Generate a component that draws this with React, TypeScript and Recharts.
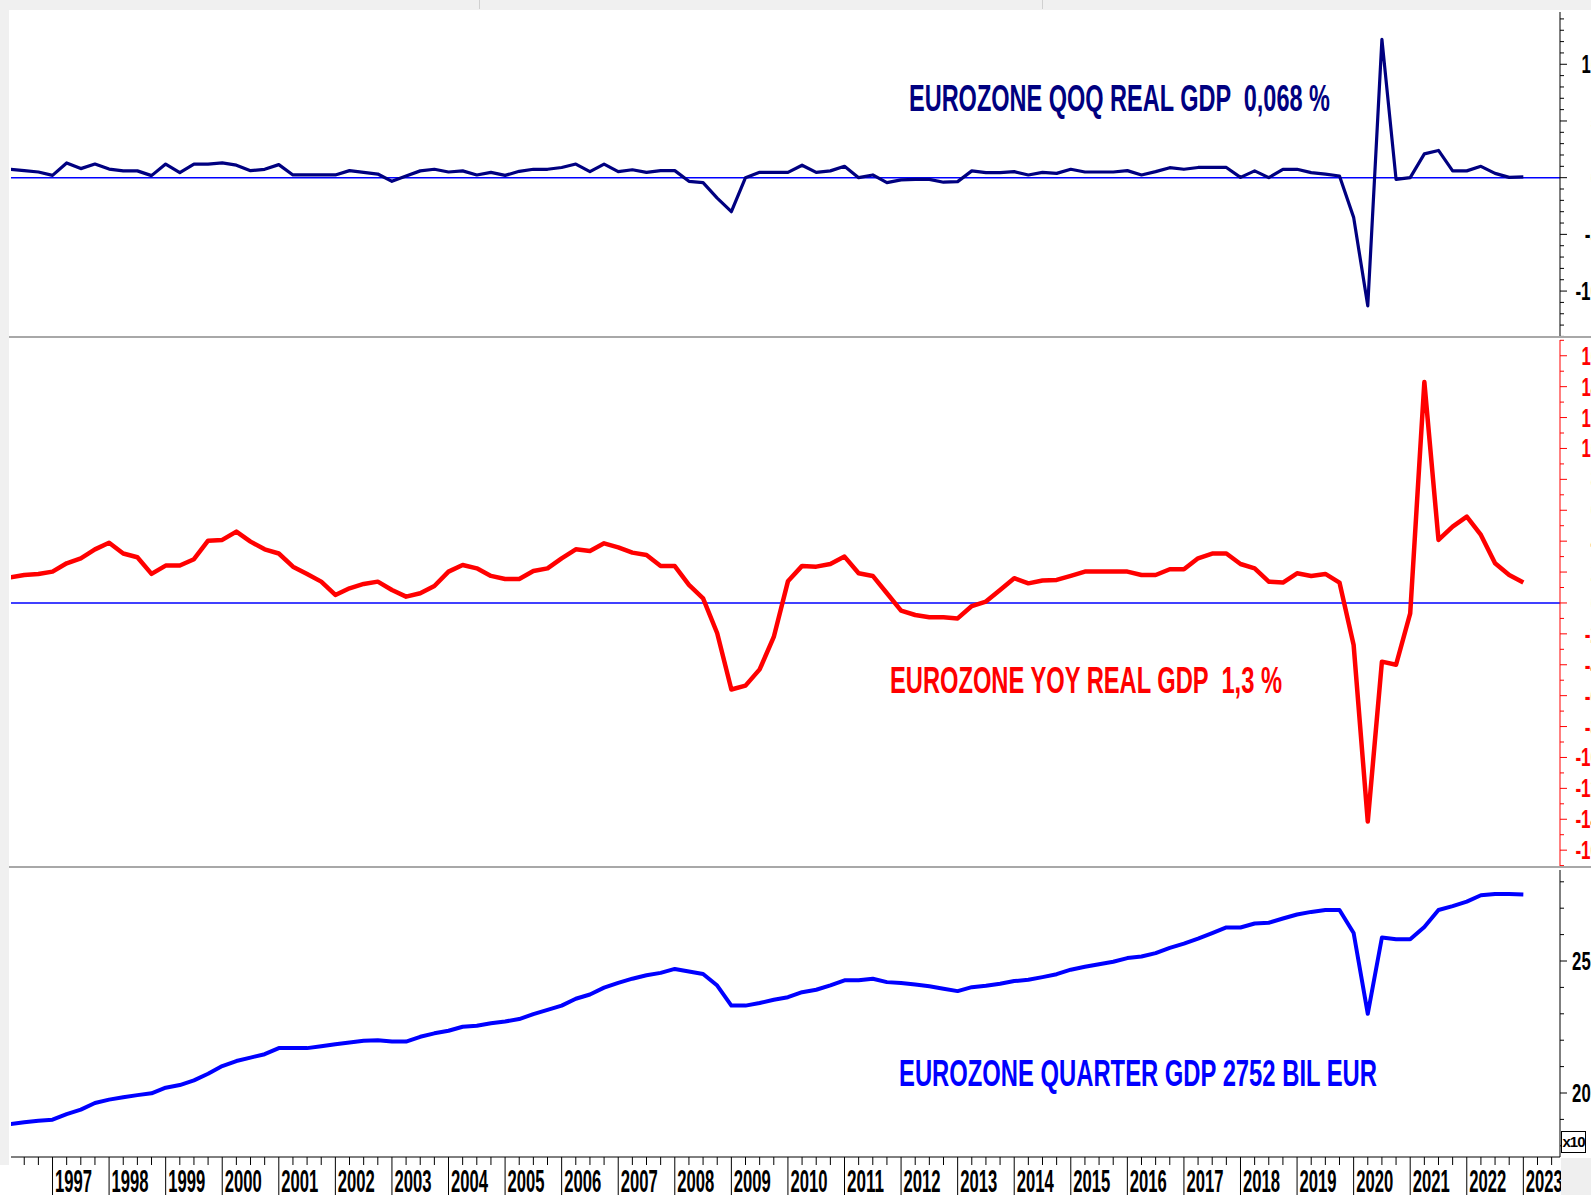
import React from "react";
import { LineChart, Line, XAxis, YAxis, ReferenceLine } from "recharts";

// quarters run from 1996 Q2 to 2023 Q1
const years = [1996, 1997, 1998, 1999, 2000, 2001, 2002, 2003, 2004, 2005, 2006, 2007, 2008, 2009,
  2010, 2011, 2012, 2013, 2014, 2015, 2016, 2017, 2018, 2019, 2020, 2021, 2022, 2023];
const quarterOffsets = [0, 0.25, 0.5, 0.75];
const firstQuarter = 1996.25;

// QoQ real GDP, %
const qoq = [
  0.74, 0.62, 0.5, 0.2, 1.3, 0.8, 1.2, 0.76, 0.6, 0.6, 0.18, 1.2, 0.45, 1.2, 1.2, 1.3,
  1.1, 0.62, 0.74, 1.15, 0.24, 0.24, 0.24, 0.24, 0.62, 0.47, 0.32, -0.32, 0.15, 0.6, 0.74, 0.5,
  0.6, 0.24, 0.47, 0.2, 0.56, 0.74, 0.74, 0.9, 1.2, 0.53, 1.2, 0.53, 0.7, 0.47, 0.62, 0.62,
  -0.32, -0.44, -1.8, -3.0, 0.0, 0.47, 0.47, 0.47, 1.1, 0.47, 0.6, 1.0, 0.0, 0.24, -0.44, -0.2,
  -0.15, -0.15, -0.4, -0.35, 0.6, 0.45, 0.45, 0.53, 0.24, 0.47, 0.38, 0.74, 0.5, 0.5, 0.5, 0.62,
  0.24, 0.53, 0.88, 0.74, 0.9, 0.9, 0.9, 0.03, 0.6, 0.0, 0.74, 0.74, 0.45, 0.32, 0.15, -3.5,
  -11.3, 12.2, -0.15, 0.0, 2.1, 2.4, 0.6, 0.6, 1.0, 0.38, 0.03, 0.068,
];

// YoY real GDP, %
const yoy = [
  1.66, 1.81, 1.88, 2.03, 2.57, 2.89, 3.47, 3.9, 3.2, 2.96, 1.88, 2.42, 2.42, 2.83, 4.03, 4.08,
  4.62, 3.97, 3.47, 3.2, 2.35, 1.88, 1.38, 0.52, 0.95, 1.23, 1.38, 0.84, 0.41, 0.63, 1.1, 2.03,
  2.46, 2.24, 1.75, 1.55, 1.55, 2.07, 2.24, 2.89, 3.47, 3.37, 3.86, 3.6, 3.26, 3.1, 2.39, 2.39,
  1.17, 0.3, -1.96, -5.6, -5.35, -4.3, -2.2, 1.4, 2.4, 2.35, 2.52, 3.0, 1.92, 1.75, 0.63, -0.5,
  -0.78, -0.93, -0.93, -1.0, -0.2, 0.09, 0.84, 1.6, 1.27, 1.45, 1.49, 1.75, 2.03, 2.03, 2.03, 2.03,
  1.81, 1.81, 2.18, 2.18, 2.89, 3.2, 3.2, 2.52, 2.24, 1.38, 1.32, 1.92, 1.75, 1.88, 1.32, -2.72,
  -14.15, -3.8, -4.0, -0.67, 14.3, 4.08, 4.94, 5.59, 4.4, 2.57, 1.81, 1.32,
];

// quarterly GDP, BIL EUR
const gdp = [
  1882, 1889, 1895, 1899, 1920, 1937, 1962, 1975, 1984, 1992, 1999, 2020, 2030, 2048, 2073, 2102,
  2121, 2134, 2147, 2170, 2170, 2170, 2177, 2185, 2191, 2198, 2200, 2195, 2195, 2213, 2226, 2236,
  2251, 2255, 2264, 2271, 2280, 2299, 2315, 2331, 2357, 2373, 2399, 2417, 2433, 2446, 2455, 2470,
  2460, 2451, 2407, 2331, 2331, 2341, 2353, 2363, 2382, 2391, 2408, 2427, 2427, 2433, 2420, 2417,
  2411, 2404, 2395, 2386, 2401, 2406, 2414, 2424, 2429, 2439, 2450, 2467, 2478, 2488, 2497, 2511,
  2517, 2530, 2550, 2566, 2585, 2606, 2627, 2627, 2642, 2645, 2661, 2676, 2686, 2693, 2693, 2606,
  2300, 2589, 2582, 2582, 2629, 2693, 2708, 2725, 2749, 2754, 2754, 2752,
];

const qoqTicks = [-14, -13, -12, -11, -10, -9, -8, -7, -6, -5, -4, -3, -2, -1, 0,
  1, 2, 3, 4, 5, 6, 7, 8, 9, 10, 11, 12, 13, 14];
const yoyTicks = [-17, -16, -15, -14, -13, -12, -11, -10, -9, -8, -7, -6, -5, -4, -3, -2, -1, 0,
  1, 2, 3, 4, 5, 6, 7, 8, 9, 10, 11, 12, 13, 14, 15, 16, 17];
const gdpTicks = [1800, 1900, 2000, 2100, 2200, 2300, 2400, 2500, 2600, 2700, 2800];

const X_DOMAIN = [1996.266, 2023.648];

const rows = qoq.map((v, i) => ({
  t: firstQuarter + i * 0.25,
  qoq: v,
  yoy: yoy[i],
  gdp: gdp[i],
}));

const xTicks: number[] = [];
years.forEach((y) => quarterOffsets.forEach((q) => {
  const t = y + q;
  if (t > X_DOMAIN[0] && t < X_DOMAIN[1]) xTicks.push(t);
}));

const FONT = "'Liberation Sans Narrow', 'Liberation Sans', Arial, sans-serif";

const textWidth = (s: string) => {
  let w = 0;
  for (const ch of s) w += ch === "-" ? 6 : 9.3;
  return w;
};

// tall, narrow bold text like the original terminal font
const Tall = ({ x, y, children, size, stretch = 1.4, width, anchor = "start", fill }: any) => (
  <g transform={`translate(${x},${y}) scale(1,${stretch})`}>
    <text x={0} y={0} textAnchor={anchor} textLength={width} lengthAdjust="spacingAndGlyphs"
          fontSize={size} fontWeight={700} fontFamily={FONT} fill={fill} style={{ whiteSpace: "pre" }}>
      {children}
    </text>
  </g>
);

const rightTick = (color: string, labelStep: number, fmt: (v: number) => string) => (props: any) => {
  const { x, y, payload } = props;
  const v = payload.value;
  const major = Math.abs(v % labelStep) < 1e-6;
  const label = fmt(v);
  return (
    <g>
      <line x1={x} x2={x + (major ? 7 : 4)} y1={y} y2={y} stroke={color} strokeWidth={1} />
      {major && (
        <Tall x={x + 40} y={y + 9} size={18} width={textWidth(label)} anchor="end" fill={color}>
          {label}
        </Tall>
      )}
    </g>
  );
};

const XTick = (props: any) => {
  const { x, y, payload } = props;
  const v = payload.value;
  const isYear = Math.abs(v - Math.round(v)) < 1e-6;
  if (!isYear) return <line x1={x} x2={x} y1={y} y2={y + 8} stroke="#000" strokeWidth={1} />;
  return (
    <g>
      <line x1={x} x2={x} y1={y} y2={y + 40} stroke="#000" strokeWidth={1} />
      <Tall x={x + 2.5} y={y + 35} size={22} width={37} fill="#000">{Math.round(v)}</Tall>
    </g>
  );
};

const abs = (o: any) => ({ position: "absolute" as const, ...o });

export default function App() {
  return (
    <div style={abs({ left: 0, top: 0, width: 1591, height: 1195, overflow: "hidden", background: "#fff" })}>

      {/* QoQ panel */}
      <div style={abs({ left: 0, top: 0 })}>
        <LineChart width={1591} height={338} data={rows} margin={{ top: 12, right: 0, bottom: 1, left: 11 }}>
          <XAxis dataKey="t" type="number" domain={X_DOMAIN} hide allowDataOverflow />
          <YAxis orientation="right" width={31} domain={[-14.05, 14.61]} ticks={qoqTicks} interval={0}
                 allowDataOverflow tickSize={0} tickMargin={0} tickLine={false}
                 axisLine={{ stroke: "#000", strokeWidth: 1 }}
                 tick={rightTick("#000", 5, (v) => String(v))} />
          <ReferenceLine y={0} stroke="#0000ff" strokeWidth={1.5} />
          <Line dataKey="qoq" type="linear" stroke="#000080" strokeWidth={3.2} dot={false}
                strokeLinejoin="round" isAnimationActive={false} />
        </LineChart>
      </div>

      {/* YoY panel */}
      <div style={abs({ left: 0, top: 338 })}>
        <LineChart width={1591} height={530} data={rows} margin={{ top: 2, right: 0, bottom: 1, left: 11 }}>
          <XAxis dataKey="t" type="number" domain={X_DOMAIN} hide allowDataOverflow />
          <YAxis orientation="right" width={31} domain={[-17.09, 17.02]} ticks={yoyTicks} interval={0}
                 allowDataOverflow tickSize={0} tickMargin={0} tickLine={false}
                 axisLine={{ stroke: "#ff0000", strokeWidth: 1 }}
                 tick={rightTick("#ff0000", 2, (v) => String(v))} />
          <ReferenceLine y={0} stroke="#0000ff" strokeWidth={1.5} />
          <Line dataKey="yoy" type="linear" stroke="#ff0000" strokeWidth={4.5} dot={false}
                strokeLinejoin="round" isAnimationActive={false} />
        </LineChart>
      </div>

      {/* GDP level panel */}
      <div style={abs({ left: 0, top: 868 })}>
        <LineChart width={1591} height={327} data={rows} margin={{ top: 2, right: 0, bottom: 0, left: 11 }}>
          <XAxis dataKey="t" type="number" domain={X_DOMAIN} ticks={xTicks} interval={0} height={38}
                 allowDataOverflow tickSize={0} tickMargin={0} tickLine={false}
                 axisLine={{ stroke: "#000", strokeWidth: 1 }} tick={XTick} />
          <YAxis orientation="right" width={31} domain={[1757.6, 2844.7]} ticks={gdpTicks} interval={0}
                 allowDataOverflow tickSize={0} tickMargin={0} tickLine={false}
                 axisLine={{ stroke: "#000", strokeWidth: 1 }}
                 tick={rightTick("#000", 500, (v) => String(v / 10))} />
          <Line dataKey="gdp" type="linear" stroke="#0000ff" strokeWidth={4} dot={false}
                strokeLinejoin="round" isAnimationActive={false} />
        </LineChart>
      </div>

      {/* frame pieces */}
      <div style={abs({ left: 0, top: 0, width: 1591, height: 10, background: "#f0f0f0" })} />
      <div style={abs({ left: 479, top: 0, width: 1, height: 9, background: "#d0d0d0" })} />
      <div style={abs({ left: 1042, top: 0, width: 1, height: 9, background: "#d0d0d0" })} />
      <div style={abs({ left: 0, top: 0, width: 9, height: 1165, background: "#f0f0f0" })} />
      <div style={abs({ left: 9, top: 336, width: 1582, height: 2, background: "#a8a8a8" })} />
      <div style={abs({ left: 9, top: 866, width: 1582, height: 2, background: "#a8a8a8" })} />
      <div style={abs({ left: 1561, top: 1158, width: 30, height: 37, background: "#efefef" })} />
      <div style={abs({
        left: 1561, top: 1131, width: 23, height: 20, border: "1px solid #000", background: "#fff",
        fontFamily: FONT, fontWeight: 700, fontSize: 15, lineHeight: "20px", textAlign: "center",
        letterSpacing: -1,
      })}>x10</div>

      {/* titles */}
      <svg width={1591} height={1195} style={abs({ left: 0, top: 0, pointerEvents: "none" })}>
        <Tall x={909} y={110.5} size={27} stretch={1.37} width={421} fill="#000080">
          EUROZONE QOQ REAL GDP  0,068 %
        </Tall>
        <Tall x={890} y={692.5} size={27} stretch={1.37} width={392} fill="#ff0000">
          EUROZONE YOY REAL GDP  1,3 %
        </Tall>
        <Tall x={899} y={1086} size={27} stretch={1.37} width={478} fill="#0000ff">
          EUROZONE QUARTER GDP 2752 BIL EUR
        </Tall>
      </svg>
    </div>
  );
}
